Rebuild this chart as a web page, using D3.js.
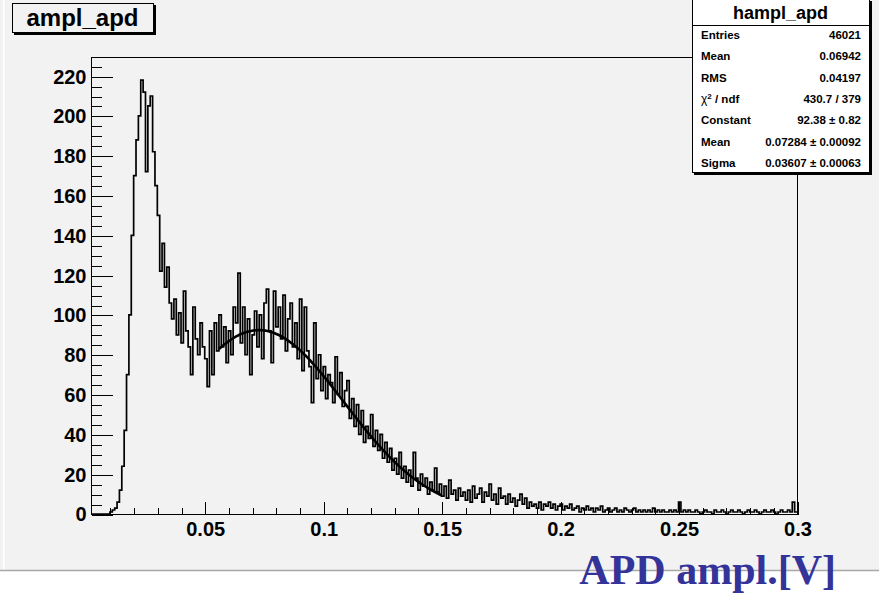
<!DOCTYPE html>
<html>
<head>
<meta charset="utf-8">
<script src="https://cdn.jsdelivr.net/npm/d3@7"></script>
<style>
  body { margin: 0; background: #fff; }
  svg { display: block; }
</style>
</head>
<body>
<div id="vis"></div>
<script>
// Canvas size
const width = 879;
const height = 596;

// Histogram binning (volts) and bin contents
const xMin = 0.002;
const xMax = 0.3;
const binWidth = 0.001;
const counts = [
    0, 0, 0, 0, 0, 0, 0, 0,
    1, 2, 3, 6, 12, 24, 42, 70, 100, 140,
    170, 188, 200, 218, 212, 172, 205, 210, 182, 165,
    150, 122, 136, 114, 124, 106, 98, 108, 90, 101,
    86, 112, 92, 84, 70, 104, 88, 80, 96, 84,
    78, 64, 92, 70, 96, 82, 100, 84, 94, 76,
    92, 80, 104, 96, 121, 86, 104, 80, 98, 70,
    90, 102, 84, 100, 78, 106, 113, 92, 76, 112,
    94, 104, 88, 110, 82, 98, 106, 84, 96, 78,
    108, 72, 104, 82, 74, 56, 96, 68, 80, 62,
    74, 58, 70, 66, 56, 79, 60, 71, 54, 62,
    67, 48, 58, 44, 55, 40, 52, 36, 44, 38,
    50, 34, 42, 32, 40, 28, 36, 26, 33, 22,
    28, 20, 31, 18, 24, 16, 22, 14, 31, 18,
    12, 20, 14, 18, 10, 16, 12, 23, 11, 15,
    9, 14, 8, 17, 10, 12, 7, 13, 9, 11,
    7, 12, 6, 14, 8, 10, 13, 6, 11, 9,
    15, 7, 10, 5, 13, 8, 9, 5, 10, 6,
    8, 4, 7, 10, 5, 8, 3, 6, 4, 5,
    3, 6, 2, 5, 4, 6, 3, 5, 2, 4,
    5, 2, 4, 3, 5, 2, 3, 4, 1, 3,
    2, 4, 2, 3, 1, 3, 2, 4, 1, 2,
    3, 1, 2, 3, 1, 2, 1, 3, 2, 1,
    2, 3, 1, 2, 1, 2, 1, 2, 1, 3,
    1, 2, 1, 2, 1, 1, 2, 1, 2, 1,
    6, 1, 2, 1, 2, 1, 1, 2, 1, 0,
    1, 2, 1, 1, 0, 2, 1, 1, 2, 1,
    0, 1, 2, 1, 1, 2, 1, 0, 1, 2,
    1, 1, 2, 1, 0, 1, 2, 1, 1, 2,
    1, 0, 1, 2, 1, 1, 2, 1, 6, 1
];
const yMax = 229.6;

// Tick values
const xTicks = [0.05, 0.1, 0.15, 0.2, 0.25, 0.3];
const xTickLabels = ['0.05', '0.1', '0.15', '0.2', '0.25', '0.3'];
const xMinorTicks = [0.01, 0.02, 0.03, 0.04, 0.06, 0.07, 0.08, 0.09, 0.11, 0.12, 0.13, 0.14,
    0.16, 0.17, 0.18, 0.19, 0.21, 0.22, 0.23, 0.24, 0.26, 0.27, 0.28, 0.29];
const yTicks = [0, 20, 40, 60, 80, 100, 120, 140, 160, 180, 200, 220];

// Stats box
const statTitle = 'hampl_apd';
const statLabels = ['Entries', 'Mean', 'RMS', 'chi2', 'Constant', 'Mean', 'Sigma'];
const statValues = ['46021', '0.06942', '0.04197', '430.7 / 379', '92.38 \u00b1 0.82',
    '0.07284 \u00b1 0.00092', '0.03607 \u00b1 0.00063'];

// Gaussian fit (parameters from the stats box) and its range
const fitConstant = 92.38;
const fitMean = 0.07284;
const fitSigma = 0.03607;
const fitRange = [0.056, 0.15];

const histTitle = 'ampl_apd';
const xTitle = 'APD ampl.[V]';

// Frame of the pad
const frame = { left: 91, right: 797, top: 57, bottom: 514 };
const sans = "'Liberation Sans', Arial, Helvetica, sans-serif";

let svg = d3.select('#vis')
    .append('svg')
    .attr('width', width)
    .attr('height', height);

// Canvas background
svg.append('rect')
    .attr('x', 0).attr('y', 0)
    .attr('width', width).attr('height', 570)
    .attr('fill', '#f2f2f2');
svg.append('rect')
    .attr('x', 3).attr('y', 0)
    .attr('width', 1.5).attr('height', 570)
    .attr('fill', '#ffffff');
svg.append('line')
    .attr('x1', 0).attr('x2', width)
    .attr('y1', 570.5).attr('y2', 570.5)
    .attr('stroke', '#a8a8a8')
    .attr('stroke-width', 1.5);

// Scales
let xScale = d3.scaleLinear()
    .domain([xMin, xMax])
    .range([frame.left, frame.right]);

let yScale = d3.scaleLinear()
    .domain([0, yMax])
    .range([frame.bottom, frame.top]);

// Frame box
svg.append('rect')
    .attr('x', frame.left + 0.5)
    .attr('y', frame.top + 0.5)
    .attr('width', frame.right - frame.left)
    .attr('height', frame.bottom - frame.top)
    .attr('fill', 'none')
    .attr('stroke', '#000')
    .attr('shape-rendering', 'crispEdges');

// X axis: major ticks + labels, then minor ticks
let xaxis = d3.axisBottom(xScale)
    .tickValues(xTicks)
    .tickFormat((d, i) => xTickLabels[i])
    .tickSize(-13)
    .tickPadding(7);

svg.append('g')
    .attr('class', 'x axis')
    .attr('transform', `translate(0.5,${frame.bottom + 0.5})`)
    .call(xaxis);

svg.append('g')
    .attr('class', 'x minor')
    .attr('transform', `translate(0.5,${frame.bottom + 0.5})`)
    .call(d3.axisBottom(xScale).tickValues(xMinorTicks).tickSize(-6.5).tickFormat(''));

// Y axis: major ticks + labels, then minor ticks every 5
let yaxis = d3.axisLeft(yScale)
    .tickValues(yTicks)
    .tickSize(-21)
    .tickPadding(5);

svg.append('g')
    .attr('class', 'y axis')
    .attr('transform', `translate(${frame.left + 0.5},0.5)`)
    .call(yaxis);

svg.append('g')
    .attr('class', 'y minor')
    .attr('transform', `translate(${frame.left + 0.5},0.5)`)
    .call(d3.axisLeft(yScale).tickValues(d3.range(5, yMax, 5).filter(v => v % 20 != 0)).tickSize(-10).tickFormat(''));

// Common axis styling
svg.selectAll('.axis .domain, .minor .domain').remove();
svg.selectAll('.axis line, .minor line')
    .attr('stroke', '#000')
    .attr('shape-rendering', 'crispEdges');
svg.selectAll('.axis text')
    .attr('fill', '#000')
    .attr('font-family', sans)
    .attr('font-weight', 'bold')
    .attr('font-size', 20);

// Histogram drawn as a step outline
let histPoints = counts.map((c, i) => [xMin + i * binWidth, c]);
histPoints.push([xMin + counts.length * binWidth, counts[counts.length - 1]]);

let histLine = d3.line()
    .x(d => xScale(d[0]))
    .y(d => yScale(d[1]))
    .curve(d3.curveStepAfter);

svg.append('path')
    .datum(histPoints)
    .attr('d', histLine)
    .attr('fill', 'none')
    .attr('stroke', '#000')
    .attr('stroke-width', 1.7);

// Gaussian fit curve
let fitPoints = d3.range(fitRange[0], fitRange[1] + 1e-9, 0.0005)
    .map(x => [x, fitConstant * Math.exp(-0.5 * Math.pow((x - fitMean) / fitSigma, 2))]);

svg.append('path')
    .datum(fitPoints)
    .attr('d', d3.line().x(d => xScale(d[0])).y(d => yScale(d[1])).curve(d3.curveMonotoneX))
    .attr('fill', 'none')
    .attr('stroke', '#000')
    .attr('stroke-width', 2.6);

// Boxes with a drop shadow (ROOT style)
function shadowBox(x, y, w, h, fill) {
    svg.append('rect')
        .attr('x', x + 2).attr('y', y + 2)
        .attr('width', w + 1).attr('height', h + 1)
        .attr('fill', '#000');
    svg.append('rect')
        .attr('x', x + 0.5).attr('y', y + 0.5)
        .attr('width', w).attr('height', h)
        .attr('fill', fill)
        .attr('stroke', '#000')
        .attr('shape-rendering', 'crispEdges');
}

// Title box
shadowBox(12, 3, 141, 29, '#f2f2f2');
svg.append('text')
    .attr('x', 82.5).attr('y', 26)
    .attr('text-anchor', 'middle')
    .attr('font-family', sans)
    .attr('font-weight', 'bold')
    .attr('font-size', 24)
    .text(histTitle);

// Stats box
const stat = { x: 692, y: -1, w: 177, h: 173 };
shadowBox(stat.x, stat.y, stat.w, stat.h, '#ffffff');
svg.append('line')
    .attr('x1', stat.x).attr('x2', stat.x + stat.w)
    .attr('y1', 25.5).attr('y2', 25.5)
    .attr('stroke', '#000')
    .attr('shape-rendering', 'crispEdges');
svg.append('text')
    .attr('x', stat.x + stat.w / 2).attr('y', 18.5)
    .attr('text-anchor', 'middle')
    .attr('font-family', sans)
    .attr('font-weight', 'bold')
    .attr('font-size', 18)
    .text(statTitle);

let rows = svg.append('g')
    .attr('font-family', sans)
    .attr('font-weight', 'bold')
    .attr('font-size', 11.5);

statLabels.forEach((label, i) => {
    let yy = 39 + i * 21.3;
    let t = rows.append('text')
        .attr('x', 701).attr('y', yy);
    if (label == 'chi2') {
        // chi squared label with superscript
        t.append('tspan').attr('font-weight', 'normal').attr('font-size', 12).text('\u03c7');
        t.append('tspan').attr('font-size', 8).attr('dy', -4).text('2');
        t.append('tspan').attr('dy', 4).text(' / ndf');
    } else {
        t.text(label);
    }
    rows.append('text')
        .attr('x', 861).attr('y', yy)
        .attr('text-anchor', 'end')
        .text(statValues[i]);
});

// Axis title written on the slide
svg.append('text')
    .attr('x', 836).attr('y', 584)
    .attr('text-anchor', 'end')
    .attr('font-family', "'Liberation Serif', 'Times New Roman', serif")
    .attr('font-weight', 'bold')
    .attr('font-size', 42)
    .attr('fill', '#333399')
    .text(xTitle);
</script>
</body>
</html>
